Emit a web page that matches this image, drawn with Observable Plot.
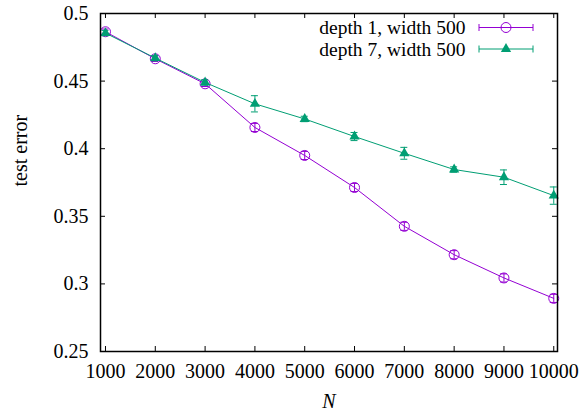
<!DOCTYPE html>
<html><head><meta charset="utf-8">
<script src="https://cdn.jsdelivr.net/npm/d3@7"></script>
<script src="https://cdn.jsdelivr.net/npm/@observablehq/plot@0.6"></script>
<style>body{margin:0;background:#fff} #chart{width:582px;height:411px}</style>
</head><body><div id="chart"></div>
<script>
const N = [1000, 2000, 3000, 4000, 5000, 6000, 7000, 8000, 9000, 10000];
const depth1 = [0.4865, 0.4665, 0.448, 0.4157, 0.395, 0.3713, 0.3426, 0.3216, 0.3044, 0.2893];
const depth1Err = [0.002, 0.002, 0.002, 0.003, 0.003, 0.003, 0.003, 0.003, 0.003, 0.003];
const depth7 = [0.4855, 0.467, 0.449, 0.4332, 0.422, 0.409, 0.3966, 0.3846, 0.3789, 0.3653];
const depth7Err = [0.002, 0.002, 0.002, 0.006, 0.002, 0.003, 0.0044, 0.002, 0.0054, 0.0064];
const seriesNames = ["depth 1, width 500", "depth 7, width 500"];
const seriesColors = ["#9400d3", "#009e73"];
const xTicks = [1000, 2000, 3000, 4000, 5000, 6000, 7000, 8000, 9000, 10000];
const yTicks = [0.25, 0.3, 0.35, 0.4, 0.45, 0.5];
const yTickLabels = ["0.25", "0.3", "0.35", "0.4", "0.45", "0.5"];

const s1 = N.map((n, i) => ({N: n, value: depth1[i], err: depth1Err[i], series: seriesNames[0]}));
const s7 = N.map((n, i) => ({N: n, value: depth7[i], err: depth7Err[i], series: seriesNames[1]}));

const font = "'Liberation Serif', 'Times New Roman', serif";
const fs = 20;
const legendFs = 19.5;
const capHalf = 70;

function seriesMarks(rows, color, dotOpts) {
  return [
    Plot.line(rows, {x: "N", y: "value", stroke: color, strokeWidth: 1}),
    Plot.ruleX(rows, {x: "N", y1: d => d.value - d.err, y2: d => d.value + d.err, stroke: color, strokeWidth: 1}),
    Plot.ruleY(rows, {y: d => d.value - d.err, x1: d => d.N - capHalf, x2: d => d.N + capHalf, stroke: color, strokeWidth: 1}),
    Plot.ruleY(rows, {y: d => d.value + d.err, x1: d => d.N - capHalf, x2: d => d.N + capHalf, stroke: color, strokeWidth: 1}),
    Plot.dot(rows, {x: "N", y: "value", ...dotOpts})
  ];
}

const plot = Plot.plot({
  width: 582, height: 411,
  marginLeft: 100, marginRight: 25, marginTop: 13, marginBottom: 60,
  style: {fontFamily: font, fontSize: fs + "px", background: "white", color: "black", overflow: "visible"},
  x: {type: "linear", domain: [900, 10075]},
  y: {type: "linear", domain: [0.25, 0.5]},
  marks: [
    Plot.axisX(xTicks, {tickSize: 0, tickPadding: 12, tickFormat: d => String(d), label: null, fontSize: fs}),
    Plot.axisY(yTicks, {tickSize: 0, tickPadding: 12, tickFormat: d => yTickLabels[yTicks.indexOf(d)], label: null, fontSize: fs}),
    Plot.ruleX(xTicks, {x: d => d, insetTop: 333, stroke: "black"}),
    Plot.ruleX(xTicks, {x: d => d, insetBottom: 333, stroke: "black"}),
    Plot.ruleY(yTicks, {y: d => d, insetRight: 452, stroke: "black"}),
    Plot.ruleY(yTicks, {y: d => d, insetLeft: 452, stroke: "black"}),
    ...seriesMarks(s1, seriesColors[0], {r: 5, stroke: seriesColors[0], fill: "none", strokeWidth: 1}),
    ...seriesMarks(s7, seriesColors[1], {r: 3.8, symbol: "triangle", fill: seriesColors[1], stroke: "none"}),
    Plot.frame({stroke: "black", strokeWidth: 1.5}),
    Plot.text(["test error"], {frameAnchor: "left", rotate: -90, dx: -80, dy: 4, fontSize: fs}),
    Plot.text(["N"], {frameAnchor: "bottom", dy: 56, dx: 0, fontStyle: "italic", fontSize: fs})
  ]
});
document.getElementById("chart").appendChild(plot);

// legend (inside plot, top right, as in gnuplot)
const svg = d3.select(plot);
const lg = svg.append("g").attr("font-family", font).attr("font-size", legendFs);
seriesNames.forEach((name, i) => {
  const cy = 27.5 + i * 21.5;
  const c = seriesColors[i];
  lg.append("text").attr("x", 465.5).attr("y", cy).attr("dy", "0.35em").attr("text-anchor", "end").attr("fill", "black").text(name);
  lg.append("line").attr("x1", 479).attr("x2", 533).attr("y1", cy).attr("y2", cy).attr("stroke", c);
  lg.append("line").attr("x1", 479).attr("x2", 479).attr("y1", cy - 3.5).attr("y2", cy + 3.5).attr("stroke", c);
  lg.append("line").attr("x1", 533).attr("x2", 533).attr("y1", cy - 3.5).attr("y2", cy + 3.5).attr("stroke", c);
  if (i === 0) {
    lg.append("circle").attr("cx", 506).attr("cy", cy).attr("r", 5).attr("fill", "none").attr("stroke", c);
  } else {
    lg.append("path").attr("transform", `translate(506,${cy})`).attr("d", d3.symbol(d3.symbolTriangle, Math.PI * 3.8 * 3.8)()).attr("fill", c);
  }
});
</script>
</body></html>
